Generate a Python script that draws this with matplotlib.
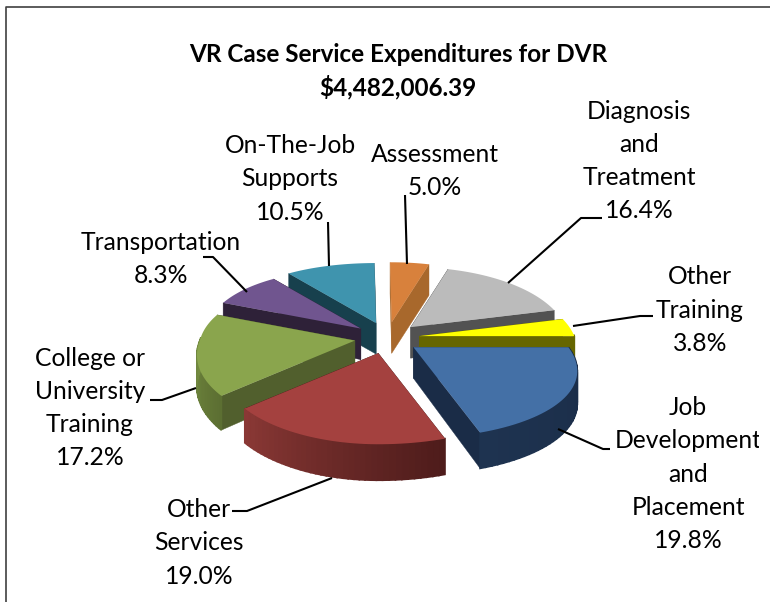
from matplotlib import pyplot as plt
from matplotlib.transforms import Bbox, TransformedBbox
import numpy as np

plt.rcParams['font.family'] = ['Lato', 'DejaVu Sans']

# chart data, clockwise from 12 o'clock
categories = ['Assessment', 'Diagnosis\nand\nTreatment', 'Other\nTraining',
              'Job\nDevelopment\nand\nPlacement', 'Other\nServices',
              'College or\nUniversity\nTraining', 'Transportation',
              'On-The-Job\nSupports']
shares = [5.0, 16.4, 3.8, 19.8, 19.0, 17.2, 8.3, 10.5]
title_lines = ['VR Case Service Expenditures for DVR', '$4,482,006.39']

# colours: top face, radial side, arc side at start and end of the wedge
top_colors = ['#d8813c', '#bbbbbb', '#ffff00', '#4470a6', '#a4413f', '#8aa54d', '#70558f', '#3f94ae']
side_colors = ['#a8682c', '#525252', '#666600', '#1a2c47', '#4e1c1b', '#515f2d', '#2e2138', '#17404d']
arc_start = ['#a8682c', '#525252', '#666600', '#1a2c47', '#4e1c1b', '#5c6f32', '#2e2138', '#17404d']
arc_end = ['#a8682c', '#525252', '#666600', '#1e3350', '#8a3835', '#809a48', '#2e2138', '#17404d']

# back to front
draw_order = [7, 0, 1, 6, 2, 5, 3, 4]

# pie layout in image pixels
cx, cy = 387, 338
rx, ry = 155, 75.5
ky = 0.205
explode = 0.21
depth = 31

# label centres and leader lines, same order as categories
label_pos = [(435, 171), (639, 161), (700, 310), (688, 474), (199, 543), (90, 408), (161, 259), (290, 179)]
leaders = [[(405, 195), (407, 264)],
           [(602, 218), (581, 218), (508, 283)],
           [(653, 316), (640, 316), (573, 326)],
           [(610, 449), (603, 449), (558, 429)],
           [(232, 511), (247, 511), (332, 478)],
           [(150, 400), (162, 400), (196, 388)],
           [(203, 257), (213, 257), (247, 292)],
           [(328, 222), (329, 266)]]


def outer(apex, theta):
    c, s = np.cos(theta), np.sin(theta)
    # perspective differs per quadrant, fitted by eye
    if s > 0:
        kx = 0.36 if c > 0 else 0.2
    else:
        kx = 0.2 if c > 0 else 0.12
    return apex[0] + rx * c * (1 + kx * s), apex[1] + ry * s * (1 + ky * s)


def drop(point, theta=None):
    # side walls get a bit longer towards the viewer
    s = 0 if theta is None else max(np.sin(theta), 0)
    return point[0], point[1] + depth + 5 * s


def mix(c1, c2, t):
    a = np.array(plt.matplotlib.colors.to_rgb(c1))
    b = np.array(plt.matplotlib.colors.to_rgb(c2))
    return tuple(a + (b - a) * t)


fig = plt.figure(figsize=(7.7, 6.02), dpi=100)
ax = fig.add_axes([0, 0, 1, 1])
ax.set_xlim(0, 770)
ax.set_ylim(602, 0)
ax.axis('off')

edges = np.radians(np.cumsum([0] + shares) * 3.6 - 90.7)

for i in draw_order:
    t0, t1 = edges[i], edges[i + 1]
    mid = (t0 + t1) / 2
    apex = (cx + explode * rx * np.cos(mid), cy + explode * ry * np.sin(mid))
    ts = np.linspace(t0, t1, 40)
    arc = [outer(apex, t) for t in ts]

    # radial walls first, the arc wall and top face go over them
    for t, p in ((t0, arc[0]), (t1, arc[-1])):
        q = [apex, p, drop(p, t), drop(apex)]
        ax.fill(*zip(*q), color=side_colors[i], lw=0.3, zorder=1 + draw_order.index(i))
    for j in range(len(ts) - 1):
        if np.sin(ts[j]) < -0.02:
            continue
        q = [arc[j], arc[j + 1], drop(arc[j + 1], ts[j + 1]), drop(arc[j], ts[j])]
        ax.fill(*zip(*q), color=mix(arc_start[i], arc_end[i], j / 38), lw=1.2,
                zorder=1 + draw_order.index(i))
    ax.fill(*zip(*([apex] + arc)), color=top_colors[i], lw=0, zorder=1.5 + draw_order.index(i))

clip = TransformedBbox(Bbox([[0, 0], [759, 602]]), ax.transData)
for name, share, pos, line in zip(categories, shares, label_pos, leaders):
    ax.plot(*zip(*line), color='black', lw=1.5, zorder=20, solid_capstyle='butt')
    t = ax.text(pos[0], pos[1], '%s\n%.1f%%' % (name, share), ha='center', va='center',
                fontsize=17.7, linespacing=1.54, color='black', zorder=21)
    t.set_clip_box(clip)
    t.set_clip_on(True)

ax.text(398, 55, title_lines[0], ha='center', va='center', fontsize=17.5, fontweight='bold')
ax.text(398, 87, title_lines[1], ha='center', va='center', fontsize=17.5, fontweight='bold')

# chart frame, cut off by the crop at right and bottom
ax.plot([6, 6, 770], [602, 7, 7], color='#404040', lw=1.2, zorder=0)

fig.savefig('out.png', dpi=100)
